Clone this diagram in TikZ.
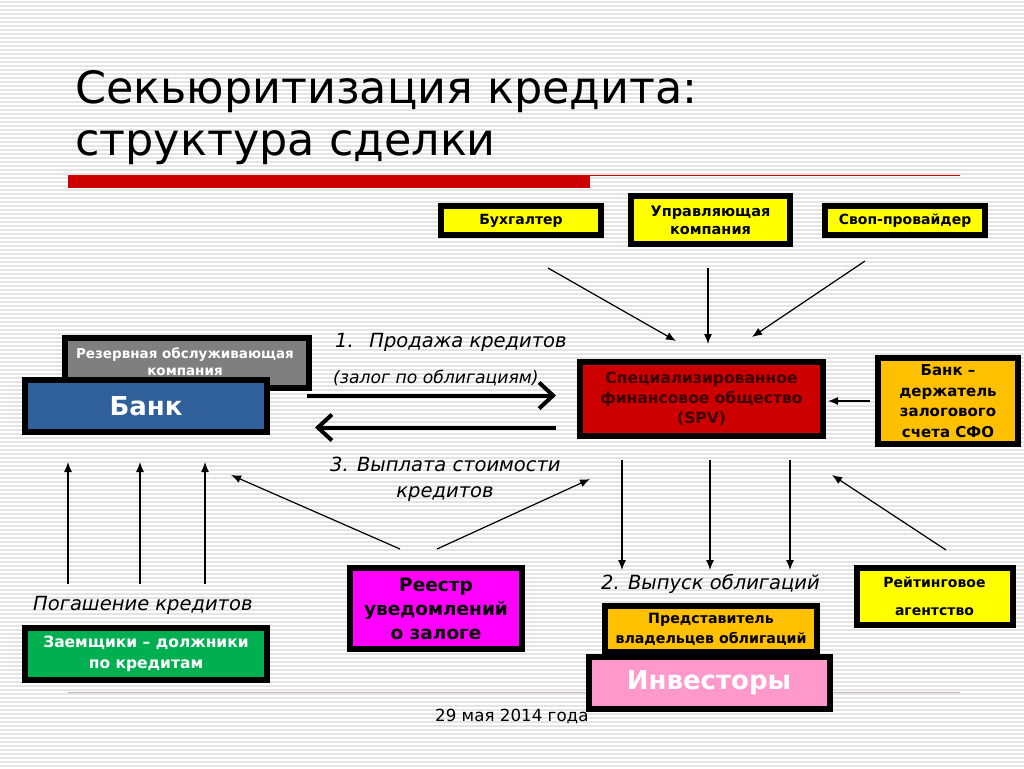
\documentclass[tikz,border=0pt]{standalone}
\usepackage{fontspec}
\setmainfont{DejaVu Sans}
\newfontfamily\bfam{DejaVu Sans}
\usetikzlibrary{arrows.meta}
\definecolor{stripe}{HTML}{E4E4E4}
\definecolor{ybox}{HTML}{FFFF00}
\definecolor{obox}{HTML}{FFC000}
\definecolor{spvred}{HTML}{CC0000}
\definecolor{spvtext}{HTML}{3C0000}
\definecolor{bankblue}{HTML}{2F6099}
\definecolor{rezgray}{HTML}{7F7F7F}
\definecolor{mag}{HTML}{FF00FF}
\definecolor{pinkbox}{HTML}{FF99CC}
\definecolor{greenbox}{HTML}{00B050}
\definecolor{titlered}{HTML}{CC0000}
\definecolor{footline}{HTML}{C9B8B2}
\tikzset{
  box/.style={draw=black, line width=6pt, inner sep=0pt, align=center, text=black},
  thinarrow/.style={line width=1.2pt, -{Latex[length=10pt,width=8pt]}},
  thickarrow/.style={line width=4pt, -{Straight Barb[length=14pt,width=26pt,line width=4pt]}},
  lbl/.style={anchor=base west, inner sep=0pt, font=\itshape\fontsize{19.5}{24}\selectfont},
}
\newcommand{\bx}[2]{\bfam\bfseries\fontsize{#1}{#2}\selectfont}
\begin{document}
\begin{tikzpicture}[x=1pt,y=-1pt]
\useasboundingbox (0,0) rectangle (1024,768);
\fill[white] (0,0) rectangle (1024,768);
\foreach \i in {0,...,191} \fill[stripe] (0,\i*4+1) rectangle (1024,\i*4+2.6);

% title
\node[anchor=base west, inner sep=0pt, font=\fontsize{44.5}{50}\selectfont] (t1) at (75,103) {Секьюритизация кредита:};
\node[anchor=base west, inner sep=0pt, font=\fontsize{44.5}{50}\selectfont] (t2) at (75,155) {структура сделки};
\fill[titlered] (68,175) rectangle (590,188);
\draw[titlered, line width=1pt] (590,175.5) -- (960,175.5);
\draw[footline, line width=1pt] (68,692) -- (960,692);

% top boxes
\node[box, fill=ybox, minimum width=160pt, minimum height=29pt, font=\bx{14}{18}] (buh) at (521,220.5) {Бухгалтер};
\node[box, fill=ybox, minimum width=159pt, minimum height=48pt, font=\bx{14.5}{18}] (upr) at (710.5,220) {Управляющая\\компания};
\node[box, fill=ybox, minimum width=160pt, minimum height=29pt, font=\bx{14}{18}] (svop) at (905,220.5) {Своп-провайдер};

% left boxes
\node[box, fill=rezgray, minimum width=244pt, minimum height=50pt] (rez) at (187,363) {};
\node[anchor=base, inner sep=0pt, text=white, align=center, font=\bx{13.5}{17}] (reztext) at (185,375) {Резервная обслуживающая\\компания};
\node[box, fill=bankblue, text=white, minimum width=242pt, minimum height=52pt, font=\bx{26}{30}] (bank) at (146,406) {Банк};

% SPV
\node[box, fill=spvred, text=spvtext, minimum width=243pt, minimum height=74pt, font=\bx{15.5}{20}] (spv) at (701.5,398.5) {Специализированное\\финансовое общество\\(SPV)};
\node[box, fill=obox, minimum width=140pt, minimum height=86pt, font=\bx{15}{20.5}] (bdz) at (948,401) {Банк –\\держатель\\залогового\\счета СФО};

% bottom boxes
\node[box, fill=ybox, minimum width=156pt, minimum height=57pt, font=\bx{14}{27.5}] (reit) at (934.5,596) {Рейтинговое\\агентство};
\node[box, fill=mag, minimum width=172pt, minimum height=81pt, font=\bx{18.5}{24}] (reestr) at (436,608.5) {Реестр\\уведомлений\\о залоге};
\node[box, fill=obox, minimum width=212pt, minimum height=46pt, font=\bx{14.2}{20}] (pred) at (711,629) {Представитель\\владельцев облигаций};
\node[box, fill=pinkbox, text=white, minimum width=241pt, minimum height=52pt, font=\bx{26}{32}] (inv) at (709,683) {Инвесторы};
\node[box, fill=greenbox, text=white, minimum width=242pt, minimum height=52pt, font=\bx{15.5}{21}] (zaem) at (146,654) {Заемщики – должники\\по кредитам};

% labels
\node[lbl] (l1) at (335,347) {1.\hspace{0.8em}Продажа кредитов};
\node[lbl, font=\itshape\fontsize{17.2}{20}\selectfont] (l1b) at (333,383) {(залог по облигациям)};
\node[lbl] (l3) at (330,471) {3. Выплата стоимости};
\node[lbl, anchor=base] (l3b) at (445,497) {кредитов};
\node[lbl] (l2) at (601,589) {2. Выпуск облигаций};
\node[lbl] (lp) at (33,610) {Погашение кредитов};
\node[anchor=base west, inner sep=0pt, font=\fontsize{16.7}{18}\selectfont] (date) at (435,721) {29 мая 2014 года};

% coordinates for arrow ends
\coordinate (a1s) at (548,268); \coordinate (a1e) at (676,341);
\coordinate (a2s) at (708,268); \coordinate (a2e) at (708,344);
\coordinate (a3s) at (865,261); \coordinate (a3e) at (752,337);
\coordinate (bzs) at (870,401); \coordinate (bze) at (828,401);
\coordinate (pr1s) at (307,395.5); \coordinate (pr1e) at (556,395.5);
\coordinate (vy1s) at (556,427.5); \coordinate (vy1e) at (315,427.5);
\coordinate (d1s) at (622,460); \coordinate (d1e) at (622,570);
\coordinate (d2s) at (710,460); \coordinate (d2e) at (710,570);
\coordinate (d3s) at (790,460); \coordinate (d3e) at (790,570);
\coordinate (u1s) at (68,584); \coordinate (u1e) at (68,462);
\coordinate (u2s) at (140,584); \coordinate (u2e) at (140,462);
\coordinate (u3s) at (205,584); \coordinate (u3e) at (205,462);
\coordinate (r1s) at (400,549); \coordinate (r1e) at (231,475);
\coordinate (r2s) at (437,549); \coordinate (r2e) at (590,479);
\coordinate (rts) at (946,550); \coordinate (rte) at (832,475);

\draw[thinarrow] (a1s) -- (a1e);
\draw[thinarrow] (a2s) -- (a2e);
\draw[thinarrow] (a3s) -- (a3e);
\draw[thinarrow] (bzs) -- (bze);
\draw[thickarrow] (pr1s) -- (pr1e);
\draw[thickarrow] (vy1s) -- (vy1e);
\foreach \k in {d1,d2,d3,u1,u2,u3,r1,r2,rt} \draw[thinarrow] (\k s) -- (\k e);
\end{tikzpicture}
\end{document}
